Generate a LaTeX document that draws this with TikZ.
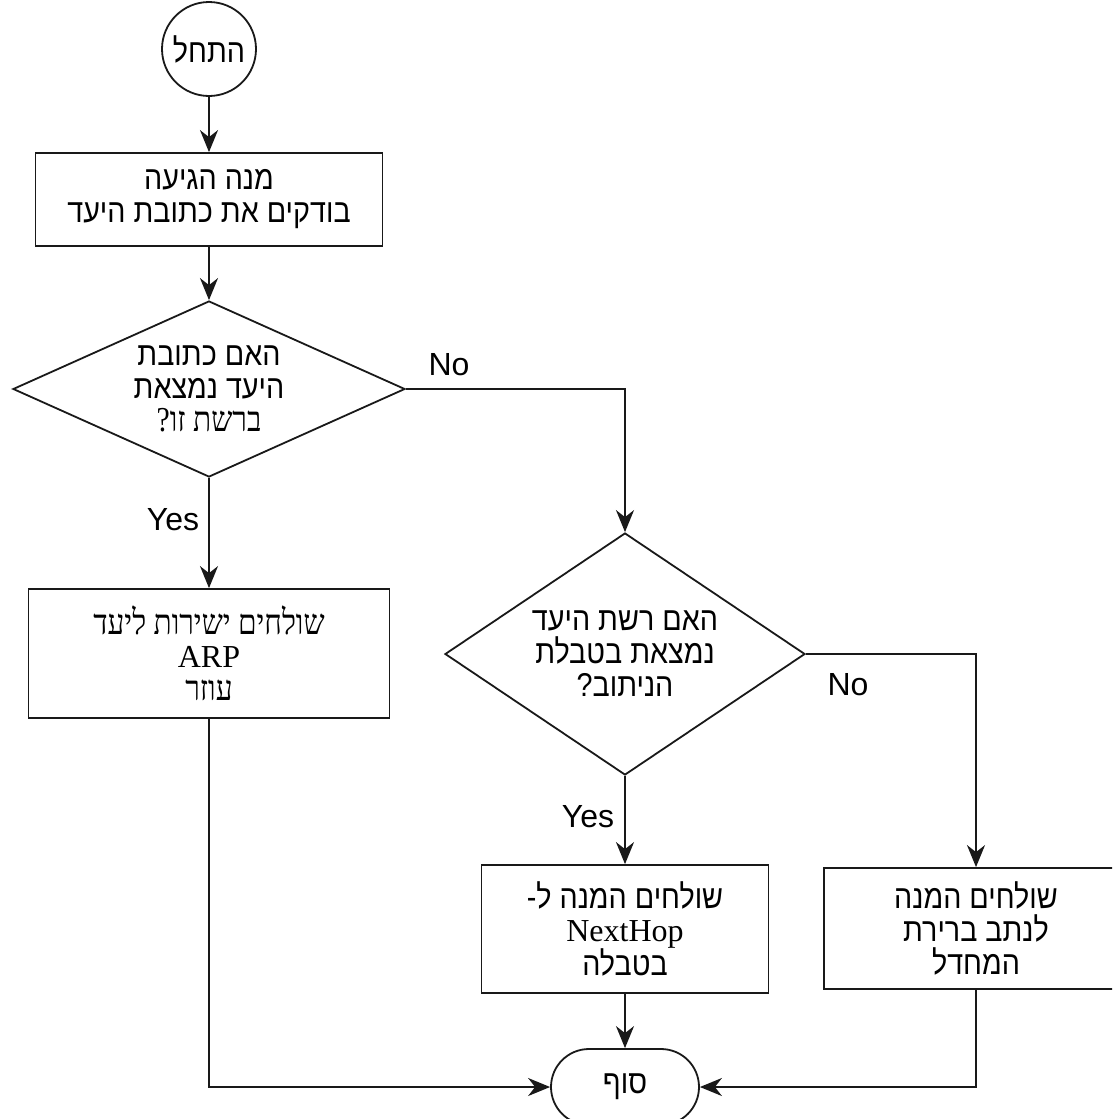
\documentclass[tikz,border=0pt]{standalone}
\usepackage{fontspec}
\usetikzlibrary{shapes.geometric,shapes.misc,arrows.meta}
\TeXXeTstate=1
\setmainfont{Liberation Sans}
\newfontfamily\hebsans[Script=Hebrew,FakeStretch=0.87]{Liberation Sans}
\newfontfamily\hebserif[Script=Hebrew,FakeStretch=0.85]{Liberation Serif}
\newfontfamily\latserif{Liberation Serif}
\newcommand\serifA{\hebserif\fontsize{35}{34}\selectfont}
\newcommand\serifB{\hebserif\fontsize{35}{34}\selectfont}
\newcommand\latA{\latserif\fontsize{32}{34}\selectfont}
\tikzset{
  base/.style={draw=black!90, line width=1.8pt, fill=white, inner sep=0pt, align=center,
    font=\hebsans\fontsize{33}{33}\selectfont},
  procbox/.style={base, rectangle},
  decide/.style={base, diamond},
  startnode/.style={base, circle, minimum size=94pt},
  endnode/.style={base, rounded rectangle, minimum width=148pt, minimum height=76pt},
  arr/.style={draw=black!90, line width=1.8pt, -{Stealth[length=22pt,width=18pt,inset=7pt]}},
  lbl/.style={font=\fontsize{32}{32}\selectfont, inner sep=0pt}
}
\begin{document}
\begin{tikzpicture}[x=1pt,y=-1pt]
\useasboundingbox[fill=white] (0,0) rectangle (1112,1119);
\clip (0,0) rectangle (1112,1119);

\node[startnode] (start) at (209,49) {\beginR התחל\endR};
\node[procbox, minimum width=347pt, minimum height=93pt] (b1) at (209,199.5)
  {\beginR מנה הגיעה\endR\\\beginR בודקים את כתובת היעד\endR};
\node[decide, minimum width=392pt, minimum height=176pt, shape aspect=2.2] (d1) at (209,389)
  {\beginR האם כתובת\endR\\\beginR היעד נמצאת\endR\\{\serifA\beginR ברשת זו?\endR}};
\node[procbox, minimum width=361pt, minimum height=129pt] (b2) at (209,653.5)
  {{\serifB\beginR שולחים ישירות ליעד\endR}\\{\latA ARP}\\{\serifB\beginR עוזר\endR}};
\node[decide, minimum width=360pt, minimum height=242pt, shape aspect=1.5] (d2) at (625,654)
  {\beginR האם רשת היעד\endR\\\beginR נמצאת בטבלת\endR\\\beginR הניתוב?\endR};
\node[procbox, minimum width=287pt, minimum height=128pt] (b3) at (625,929)
  {\beginR שולחים המנה ל-\endR\\{\latA NextHop}\\\beginR בטבלה\endR};
\node[procbox, minimum width=304pt, minimum height=121pt] (b4) at (976,928.5)
  {\beginR שולחים המנה\endR\\\beginR לנתב ברירת\endR\\\beginR המחדל\endR};
\node[endnode] (fin) at (625,1087) {\beginR סוף\endR};

\coordinate (c1) at (625,389);
\coordinate (c2) at (976,654);
\coordinate (c3) at (209,1087);
\coordinate (c4) at (976,1087);

\draw[arr] (start) -- (b1);
\draw[arr] (b1) -- (d1);
\draw[arr] (d1.south) -- (b2.north);
\draw[arr] (d1.east) -- (c1) -- (d2.north);
\draw[arr] (d2.south) -- (b3.north);
\draw[arr] (d2.east) -- (c2) -- (b4.north);
\draw[arr] (b3.south) -- (fin.north);
\draw[arr] (b2.south) -- (c3) -- (fin.west);
\draw[arr] (b4.south) -- (c4) -- (fin.east);

\node[lbl] (yes1) at (173,520) {Yes};
\node[lbl] (no1) at (449,365) {No};
\node[lbl] (yes2) at (588,817) {Yes};
\node[lbl] (no2) at (848,685) {No};
\end{tikzpicture}
\end{document}
